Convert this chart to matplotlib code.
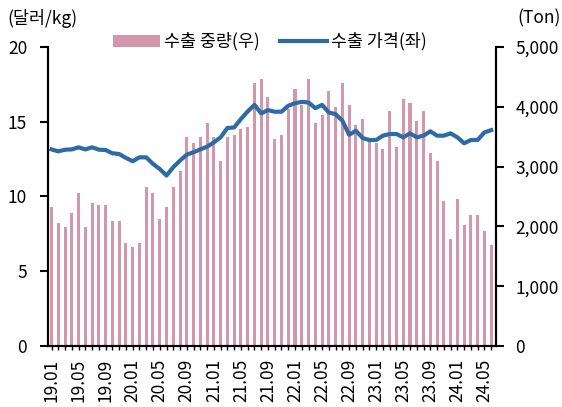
import matplotlib
matplotlib.use("Agg")
from matplotlib import pyplot as plt
from matplotlib.ticker import FuncFormatter

plt.rcParams['font.family'] = ['Noto Sans CJK KR', 'DejaVu Sans']

# monthly, 2019.01 - 2024.06
months = [f'{y}.{m:02d}' for y in range(19, 25) for m in range(1, 13)][:66]

export_ton = [2324, 2060, 1995, 2230, 2565, 1995, 2396, 2363, 2363, 2095, 2095, 1727,
              1660, 1727, 2664, 2565, 2130, 2330, 2664, 2931, 3500, 3400, 3500, 3734,
              3500, 3099, 3500, 3534, 3634, 3668, 4393, 4459, 4159, 3467, 3534, 3968,
              4292, 4035, 4459, 3734, 3868, 4259, 3991, 4393, 4035, 3690, 3790, 3433,
              3400, 3300, 3924, 3322, 4125, 4058, 3757, 3924, 3222, 3088, 2420, 1784,
              2453, 2018, 2185, 2185, 1918, 1684]

export_price = [13.15, 13.02, 13.13, 13.15, 13.29, 13.15, 13.29, 13.13, 13.11, 12.89, 12.84, 12.58,
                12.36, 12.62, 12.62, 12.18, 11.84, 11.40, 11.96, 12.40, 12.80, 12.96, 13.15, 13.33,
                13.62, 13.96, 14.58, 14.62, 15.18, 15.69, 16.13, 15.56, 15.78, 15.67, 15.67, 16.07,
                16.24, 16.33, 16.29, 15.91, 16.13, 15.62, 15.51, 15.07, 14.13, 14.40, 13.91, 13.78,
                13.78, 14.07, 14.18, 14.18, 13.96, 14.22, 13.96, 14.07, 14.36, 14.07, 14.07, 14.22,
                13.96, 13.56, 13.78, 13.78, 14.29, 14.44]

bar_color = '#d496aa'
line_color = '#2e6ba6'
fs = 12.5

fig = plt.figure(figsize=(5.62, 4.07), dpi=100)
ax = fig.add_axes([0.0854, 0.1499, 0.797, 0.7346])
ax2 = ax.twinx()

x = range(len(months))
bars = ax2.bar(x, export_ton, width=0.45, color=bar_color, label='수출 중량(우)')
line, = ax.plot(x, export_price, color=line_color, lw=3, label='수출 가격(좌)')

ax.set_zorder(ax2.get_zorder() + 1)
ax.patch.set_visible(False)

ax.set_xlim(-0.52, 65.7)
ax.set_ylim(0, 20)
ax2.set_ylim(0, 5000)
ax.set_yticks([0, 5, 10, 15, 20])
ax2.set_yticks([0, 1000, 2000, 3000, 4000, 5000])
ax2.yaxis.set_major_formatter(FuncFormatter(lambda v, p: f'{int(v):,}'))

ax.set_xticks(list(x))
ax.set_xticklabels([m if i % 4 == 0 else '' for i, m in enumerate(months)], rotation=90)

for a in (ax, ax2):
    a.spines['top'].set_visible(False)
    a.spines['left'].set_linewidth(1.5)
    a.spines['right'].set_linewidth(1.5)
    a.spines['bottom'].set_linewidth(1.5)
    a.tick_params(labelsize=fs, colors='black')
ax.tick_params(axis='y', length=6, width=1.5, pad=9)
ax2.tick_params(axis='y', length=6, width=1.5, pad=8)
ax.tick_params(axis='x', length=3, width=1, pad=6)

fig.text(0.014, 0.955, '(달러/kg)', fontsize=fs, va='center', ha='left')
fig.text(0.997, 0.955, '(Ton)', fontsize=fs, va='center', ha='right')

fig.legend([bars, line], ['수출 중량(우)', '수출 가격(좌)'], loc='center',
           bbox_to_anchor=(0.48, 0.898), ncol=2, frameon=False, fontsize=fs,
           handlelength=2.7, handletextpad=0.2, columnspacing=1.2)

fig.savefig('out.png', dpi=100)
